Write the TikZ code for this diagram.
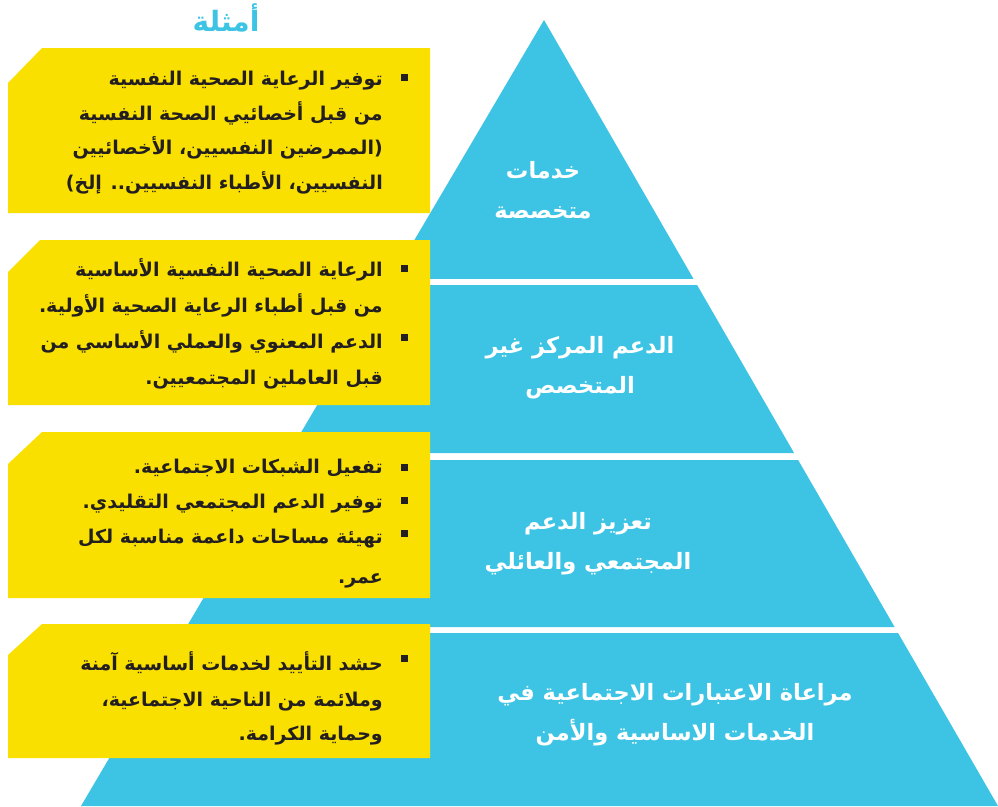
\documentclass[tikz,border=0pt]{standalone}
\usepackage{fontspec}
\usetikzlibrary{calc}
\newfontfamily\arabicfont[Script=Arabic]{DejaVu Sans}
\TeXXeTstate=1
\newcommand{\rl}[1]{\beginR #1\endR}
\definecolor{pyrblue}{RGB}{61,196,228}
\definecolor{boxyellow}{RGB}{250,224,0}
\definecolor{inkdark}{RGB}{35,31,32}
\tikzset{
  band/.style={fill=pyrblue},
  examplebox/.style={fill=boxyellow},
  bulletsq/.style={fill=inkdark},
  itemtext/.style={anchor=north east,align=right,inner sep=0pt,text=inkdark,
    font=\arabicfont\bfseries\fontsize{19}{36}\selectfont},
  bandtext/.style={align=center,inner sep=0pt,text=white,
    font=\arabicfont\bfseries\fontsize{22.5}{40}\selectfont}
}
\begin{document}
\begin{tikzpicture}[x=1pt,y=-1pt]
\useasboundingbox (0,0) rectangle (998,806);
% pyramid
\coordinate (apex) at (544,20);
\coordinate (baseL) at (81,806);
\coordinate (baseR) at (998,806);
\foreach \ta/\tb in {0/0.3295,0.3372/0.5509,0.5598/0.7723,0.7799/1}
  \fill[band] ($(apex)!\ta!(baseL)$) -- ($(apex)!\tb!(baseL)$)
    -- ($(apex)!\tb!(baseR)$) -- ($(apex)!\ta!(baseR)$) -- cycle;
\node[bandtext] (levelA) at (543,190) {\rl{خدمات}\\\rl{متخصصة}};
\node[bandtext] (levelB) at (580,368) {\rl{الدعم المركز غير}\\\rl{المتخصص}};
\node[bandtext] (levelC) at (588,544) {\rl{تعزيز الدعم}\\\rl{المجتمعي والعائلي}};
\node[bandtext] (levelD) at (675,715) {\rl{مراعاة الاعتبارات الاجتماعية في}\\\rl{الخدمات الاساسية والأمن}};
% example boxes
\fill[examplebox] (8,83) -- (42,48) -- (430,48) -- (430,213) -- (8,213) -- cycle;
\fill[examplebox] (8,272) -- (40,240) -- (430,240) -- (430,405) -- (8,405) -- cycle;
\fill[examplebox] (8,464) -- (42,432) -- (430,432) -- (430,598) -- (8,598) -- cycle;
\fill[examplebox] (8,655) -- (42,624) -- (430,624) -- (430,758) -- (8,758) -- cycle;
\node[text=pyrblue,font=\arabicfont\bfseries\fontsize{28}{32}\selectfont] (title) at (226,18) {\rl{أمثلة}};
\node[itemtext] (itemsA) at (383,71) {\rl{توفير الرعاية الصحية النفسية}\\[-1.5pt]\rl{من قبل أخصائيي الصحة النفسية}\\[-1.5pt]\rl{(الممرضين النفسيين، الأخصائيين}\\[-1.5pt]\rl{النفسيين، الأطباء النفسيين.. إلخ)}};
\node[itemtext] (itemsB) at (383,258) {\rl{الرعاية الصحية النفسية الأساسية}\\\rl{من قبل أطباء الرعاية الصحية الأولية.}\\\rl{الدعم المعنوي والعملي الأساسي من}\\\rl{قبل العاملين المجتمعيين.}};
\node[itemtext] (itemsC) at (383,459) {\rl{تفعيل الشبكات الاجتماعية.}\\[-1pt]\rl{توفير الدعم المجتمعي التقليدي.}\\[-1pt]\rl{تهيئة مساحات داعمة مناسبة لكل}\\[4pt]\rl{عمر.}};
\node[itemtext] (itemsD) at (383,651) {\rl{حشد التأييد لخدمات أساسية آمنة}\\\rl{وملائمة من الناحية الاجتماعية،}\\[-2pt]\rl{وحماية الكرامة.}};
% bullets
\foreach \by in {77,268,337,467,500,533,658}
  \fill[bulletsq] (401,\by-3.5) rectangle (408,\by+3.5);
\end{tikzpicture}
\end{document}
